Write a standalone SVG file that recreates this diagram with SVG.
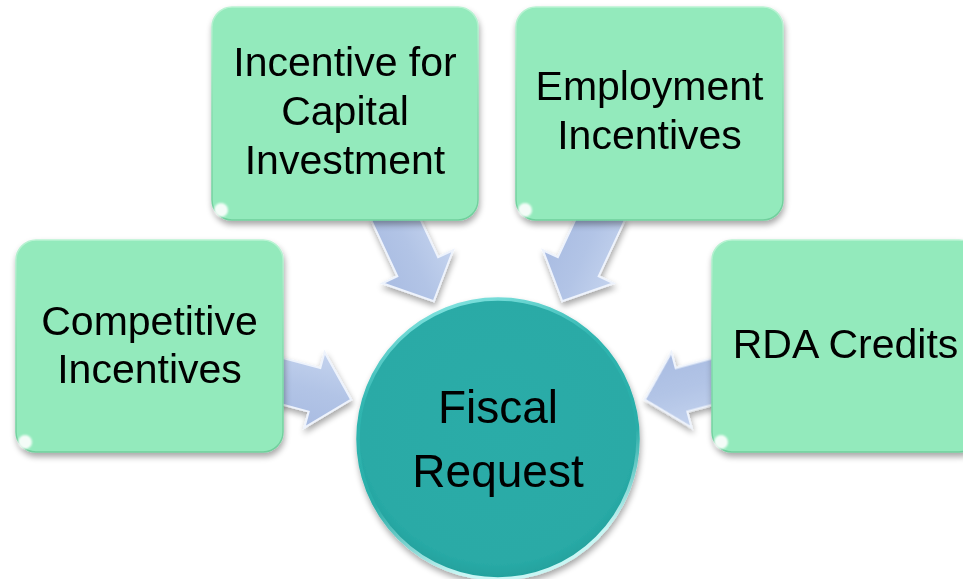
<svg xmlns="http://www.w3.org/2000/svg" width="963" height="579" viewBox="0 0 963 579">
<defs>
  <filter id="shadow" x="-20%" y="-20%" width="140%" height="140%">
    <feGaussianBlur in="SourceAlpha" stdDeviation="3"/>
    <feOffset dx="1" dy="4" result="b"/>
    <feComponentTransfer><feFuncA type="linear" slope="0.35"/></feComponentTransfer>
    <feMerge><feMergeNode/><feMergeNode in="SourceGraphic"/></feMerge>
  </filter>
  <filter id="soft" x="-20%" y="-20%" width="140%" height="140%">
    <feGaussianBlur stdDeviation="1.2"/>
  </filter>
  <linearGradient id="boxEdge" x1="0" y1="0" x2="0" y2="1">
    <stop offset="0" stop-color="#b9f3d3"/>
    <stop offset="0.5" stop-color="#86dcae"/>
    <stop offset="1" stop-color="#6fcf9c"/>
  </linearGradient>
  <linearGradient id="arrowFill" x1="0" y1="0" x2="0" y2="1">
    <stop offset="0" stop-color="#c4d3ee"/>
    <stop offset="0.5" stop-color="#b2c4e6"/>
    <stop offset="1" stop-color="#a9bce2"/>
  </linearGradient>
  <linearGradient id="rim" x1="0" y1="0" x2="0.3" y2="1">
    <stop offset="0" stop-color="#9ef3f0"/>
    <stop offset="0.35" stop-color="#30b5b0"/>
    <stop offset="0.7" stop-color="#2aada8"/>
    <stop offset="1" stop-color="#c9f6f4"/>
  </linearGradient>
  <radialGradient id="circFill" cx="0.5" cy="0.45" r="0.55">
    <stop offset="0" stop-color="#2aaca8"/>
    <stop offset="0.9" stop-color="#29aaa6"/>
    <stop offset="1" stop-color="#23a19d"/>
  </radialGradient>
  <path id="arrow" d="M -100,-22.5 L -38,-22.5 L -38,-39 L 0,0 L -38,39 L -38,22.5 L -100,22.5 Z"/>
</defs>
<style>
  .box { fill: #93eabc; stroke: url(#boxEdge); stroke-width: 1.5; }
  .gloss { fill: none; stroke: #ffffff; stroke-width: 3.5; stroke-linecap: round; opacity: 0.85; }
  .spot { fill: #ffffff; opacity: 0.9; }
  .lbl { font-family: "Liberation Sans", Arial, sans-serif; font-size: 41px; fill: #000000; text-anchor: middle; }
  .big { font-family: "Liberation Sans", Arial, sans-serif; font-size: 46px; fill: #000000; text-anchor: middle; }
  .arr { fill: url(#arrowFill); stroke: #eef3fc; stroke-width: 2; stroke-linejoin: miter; }
</style>
<rect width="963" height="579" fill="#ffffff"/>

<g id="connectors" filter="url(#shadow)">
  <use href="#arrow" class="arr" transform="translate(351.2,399.7) rotate(15)"/>
  <use href="#arrow" class="arr" transform="translate(433.8,301.2) rotate(65)"/>
  <use href="#arrow" class="arr" transform="translate(562.2,301.2) rotate(115)"/>
  <use href="#arrow" class="arr" transform="translate(644.8,399.7) rotate(165)"/>
</g>

<g id="node-competitive">
  <rect class="box" x="16" y="240" width="267" height="212" rx="20" filter="url(#shadow)"/>
  <path class="gloss" d="M 34,246 L 265,246" filter="url(#soft)"/>
  <circle class="spot" cx="25" cy="442" r="7" filter="url(#soft)"/>
  <text class="lbl" x="149.5" y="335">Competitive</text>
  <text class="lbl" x="149.5" y="383">Incentives</text>
</g>

<g id="node-capital">
  <rect class="box" x="212" y="7" width="266" height="213" rx="20" filter="url(#shadow)"/>
  <path class="gloss" d="M 230,13 L 460,13" filter="url(#soft)"/>
  <circle class="spot" cx="221" cy="210" r="7" filter="url(#soft)"/>
  <text class="lbl" x="345" y="76">Incentive for</text>
  <text class="lbl" x="345" y="125">Capital</text>
  <text class="lbl" x="345" y="174">Investment</text>
</g>

<g id="node-employment">
  <rect class="box" x="516" y="7" width="267" height="213" rx="20" filter="url(#shadow)"/>
  <path class="gloss" d="M 534,13 L 765,13" filter="url(#soft)"/>
  <circle class="spot" cx="525" cy="210" r="7" filter="url(#soft)"/>
  <text class="lbl" x="649.5" y="100">Employment</text>
  <text class="lbl" x="649.5" y="149">Incentives</text>
</g>

<g id="node-rda">
  <rect class="box" x="712" y="240" width="267" height="212" rx="20" filter="url(#shadow)"/>
  <path class="gloss" d="M 730,246 L 961,246" filter="url(#soft)"/>
  <circle class="spot" cx="721" cy="442" r="7" filter="url(#soft)"/>
  <text class="lbl" x="845.5" y="358">RDA Credits</text>
</g>

<g id="node-fiscal">
  <circle cx="498" cy="439" r="140" fill="url(#circFill)" stroke="url(#rim)" stroke-width="3.5" filter="url(#shadow)"/>
  <text class="big" x="498" y="423">Fiscal</text>
  <text class="big" x="498" y="487">Request</text>
</g>
</svg>
